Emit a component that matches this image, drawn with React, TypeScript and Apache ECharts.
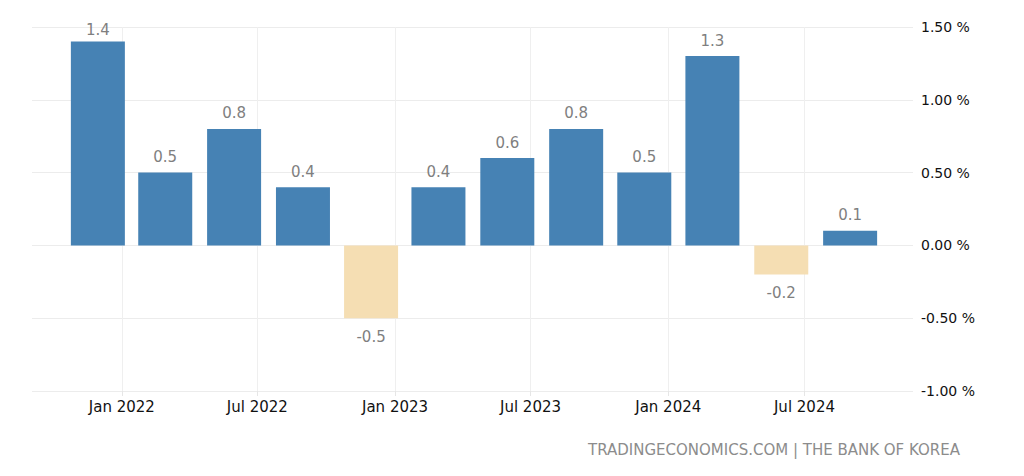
import React, { useEffect, useRef } from "react";
import * as echarts from "echarts";

const periods = [
  "2021-11-30", "2022-02-28", "2022-05-31", "2022-08-31",
  "2022-11-30", "2023-02-28", "2023-05-31", "2023-08-31",
  "2023-11-30", "2024-02-29", "2024-05-31", "2024-08-31",
];
const growth = [1.4, 0.5, 0.8, 0.4, -0.5, 0.4, 0.6, 0.8, 0.5, 1.3, -0.2, 0.1];
const xTickDates = ["2022-01-01", "2022-07-01", "2023-01-01", "2023-07-01", "2024-01-01", "2024-07-01"];
const xTickLabels = ["Jan 2022", "Jul 2022", "Jan 2023", "Jul 2023", "Jan 2024", "Jul 2024"];
const yTicks = [-1, -0.5, 0, 0.5, 1, 1.5];
const sourceText = "TRADINGECONOMICS.COM | THE BANK OF KOREA";

const FONT = "DejaVu Sans";
const DAY = 86400000;
const toDay = (s: string) => {
  const [y, m, d] = s.split("-").map(Number);
  return Math.round(Date.UTC(y, m - 1, d) / DAY);
};

export default function App() {
  const ref = useRef<HTMLDivElement>(null);
  useEffect(() => {
    if (!ref.current) return;
    const chart = echarts.init(ref.current, undefined, { renderer: "svg" });
    const tickDays = xTickDates.map(toDay);
    const yMax = yTicks[yTicks.length - 1];
    chart.setOption({
      animation: false,
      backgroundColor: "#ffffff",
      textStyle: { fontFamily: FONT },
      grid: { left: 32, right: 111, top: 27, bottom: 85, containLabel: false },
      xAxis: {
        type: "value",
        min: toDay("2021-09-03"),
        max: toDay("2024-11-23"),
        axisLine: { show: false, onZero: false },
        axisTick: {
          show: true,
          length: 5,
          customValues: tickDays,
          lineStyle: { color: "#e6e6e6" },
        },
        axisLabel: {
          customValues: tickDays,
          margin: 8,
          fontSize: 15,
          color: "#111",
          fontFamily: FONT,
          formatter: (v: number) => {
            const i = tickDays.findIndex((t) => Math.abs(t - v) < 0.5);
            return i >= 0 ? xTickLabels[i] : "";
          },
        },
        splitLine: { show: true, lineStyle: { color: "#efefef", width: 1 } },
      },
      yAxis: {
        type: "value",
        position: "right",
        min: yTicks[0],
        max: yMax,
        interval: 0.5,
        axisLine: { show: false },
        axisTick: { show: false },
        axisLabel: {
          margin: 8,
          fontSize: 14,
          color: "#111",
          fontFamily: FONT,
          formatter: (v: number) => v.toFixed(2) + " %",
        },
        splitLine: { show: true, lineStyle: { color: "#ececec", width: 1 } },
      },
      series: [
        {
          type: "bar",
          barWidth: 54,
          data: periods.map((p, i) => ({
            value: [toDay(p), growth[i]],
            itemStyle: { color: growth[i] < 0 ? "#f5deb3" : "#4682b4" },
            label: {
              show: true,
              position: growth[i] < 0 ? "bottom" : "top",
              distance: growth[i] < 0 ? 11 : yMax - growth[i] < 0.15 ? 4 : 8,
              fontSize: 15,
              color: "#7f7f7f",
              fontFamily: FONT,
              formatter: () => growth[i].toFixed(1),
            },
          })),
        },
      ],
      graphic: [
        {
          type: "text",
          right: 64,
          top: 442,
          style: {
            text: sourceText,
            fontSize: 15,
            fill: "#8c8c8c",
            fontFamily: FONT,
          },
        },
      ],
    });
    return () => chart.dispose();
  }, []);
  return (
    <div
      ref={ref}
      style={{ position: "fixed", left: 0, top: 0, width: 1024, height: 476 }}
    />
  );
}
